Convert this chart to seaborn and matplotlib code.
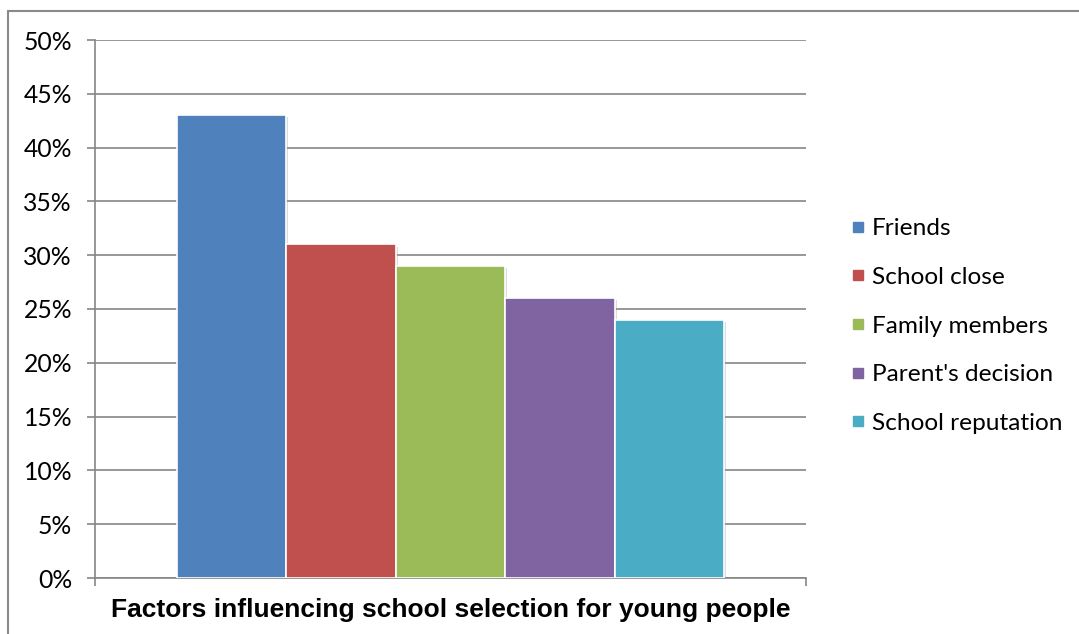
import matplotlib
matplotlib.use("Agg")
import matplotlib.pyplot as plt
import matplotlib.patheffects as pe
from matplotlib.lines import Line2D
from matplotlib.ticker import PercentFormatter
import seaborn as sns
import pandas as pd

# Survey results: share of young people citing each factor
factors = ["Friends", "School close", "Family members", "Parent's decision", "School reputation"]
shares = [43, 31, 29, 26, 24]
colors = ["#4F81BD", "#C0504D", "#9BBB59", "#8064A2", "#4BACC6"]
y_ticks = [0, 5, 10, 15, 20, 25, 30, 35, 40, 45, 50]
x_title = "Factors influencing school selection for young people"

df = pd.DataFrame({"group": [""] * len(factors), "factor": factors, "share": shares})

sns.set_theme(style="white")
plt.rcParams["font.family"] = ["Lato", "DejaVu Sans"]
plt.rcParams["text.color"] = "black"
plt.rcParams["axes.labelcolor"] = "black"
plt.rcParams["ytick.labelcolor"] = "black"

fig = plt.figure(figsize=(10.79, 6.34), dpi=100)
ax = fig.add_axes([95 / 1079, 1 - 578 / 634, (806 - 95) / 1079, (578 - 40) / 634])

sns.barplot(data=df, x="group", y="share", hue="factor", hue_order=factors,
            palette=colors, width=0.77, saturation=1, dodge=True, ax=ax,
            edgecolor="white", linewidth=1.2, legend=False, zorder=3)

for bar in ax.patches:
    bar.set_path_effects([pe.SimplePatchShadow(offset=(1.5, -1.5), shadow_rgbFace="#9a9a9a", alpha=0.35),
                          pe.Normal()])

ax.set_xlim(-0.5, 0.5)
ax.set_ylim(0, 50)
ax.set_yticks(y_ticks)
ax.yaxis.set_major_formatter(PercentFormatter(decimals=0))
ax.set_xticks([-0.5, 0.5])
ax.set_xticklabels(["", ""])
ax.set_ylabel("")
ax.set_xlabel(x_title, fontsize=19, fontweight="bold", family=["Liberation Sans"],
              color="black", labelpad=5)

grid_color = "#868686"
ax.yaxis.grid(True, color=grid_color, linewidth=1.2, zorder=0)
ax.set_axisbelow(True)
for side in ["top", "right"]:
    ax.spines[side].set_visible(False)
for side in ["left", "bottom"]:
    ax.spines[side].set_color(grid_color)
    ax.spines[side].set_linewidth(1.2)
ax.tick_params(axis="y", direction="out", length=6, width=1.2, color=grid_color,
               labelsize=17.8, labelcolor="black", pad=10.5, left=True)
ax.tick_params(axis="x", direction="out", length=6, width=1.2, color=grid_color, bottom=True)

handles = [Line2D([0], [0], marker="s", linestyle="none", markersize=7.2,
                  markerfacecolor=c, markeredgecolor=c) for c in colors]
fig.legend(handles, factors, loc="center left", bbox_to_anchor=(841 / 1079, 1 - 326 / 634),
           frameon=False, fontsize=17.6, labelspacing=1.13, handletextpad=0.25,
           handlelength=0.6, borderaxespad=0, labelcolor="black")

# Chart frame along the top and left edges
fig.add_artist(Line2D([7.5 / 1079, 1], [1 - 11 / 634, 1 - 11 / 634], color="#8a8a8a", linewidth=1.5))
fig.add_artist(Line2D([7.5 / 1079, 7.5 / 1079], [0, 1 - 11 / 634], color="#8a8a8a", linewidth=1.5))

fig.savefig("out.png", dpi=100, facecolor="white")
